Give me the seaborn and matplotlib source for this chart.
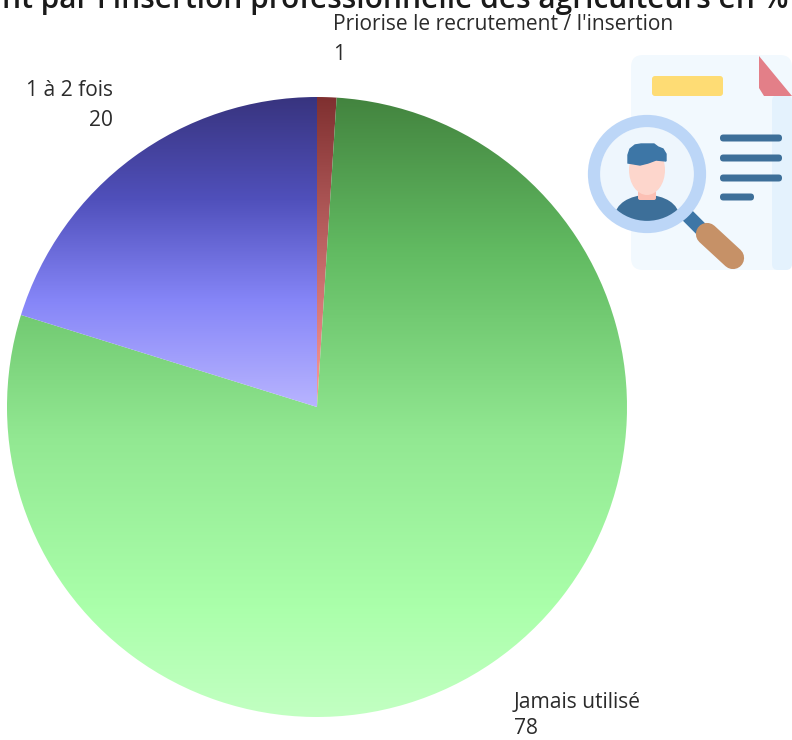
import matplotlib
matplotlib.use("Agg")
import matplotlib.pyplot as plt
import numpy as np
import seaborn as sns
from matplotlib.colors import LinearSegmentedColormap
from matplotlib.patches import Circle, FancyBboxPatch, Polygon, Ellipse

labels = ["Priorise le recrutement / l'insertion", "Jamais utilisé", "1 à 2 fois"]
values = [1, 78, 20]
title = "nt par l'insertion professionnelle des agriculteurs en %"
gradients = [
    [(0.0, "#7f3030"), (1.0, "#ff9a9a")],
    [(0.0, "#43843f"), (0.25, "#62bb62"), (0.55, "#92e892"), (0.82, "#aaffaa"), (1.0, "#c2ffc2")],
    [(0.0, "#38347f"), (0.33, "#5050bb"), (0.66, "#8686f8"), (1.0, "#b8b4ff")],
]

sns.set_theme(style="white")
plt.rcParams["font.family"] = ["Open Sans", "DejaVu Sans"]

W, H = 792, 740
fig = plt.figure(figsize=(W / 100, H / 100), dpi=100, facecolor="white")
ax = fig.add_axes([0, 0, 1, 1])
cx, cy, r = 317, H - 407, 310
wedges, _ = ax.pie(values, startangle=90, counterclock=False, center=(cx, cy), radius=r,
                   colors=["none"] * 3, wedgeprops={"linewidth": 0})
ax.set_xlim(0, W)
ax.set_ylim(0, H)
ax.set_aspect("equal")
ax.axis("off")

# vertical gradient per slice, running over each slice's own height
for w, g in zip(wedges, gradients):
    cmap = LinearSegmentedColormap.from_list("g", g)
    bb = w.get_path().transformed(w.get_transform() - ax.transData).get_extents()
    im = ax.imshow(np.linspace(0, 1, 256)[:, None], cmap=cmap, aspect="auto",
                   extent=(bb.x0, bb.x1, bb.y0, bb.y1), origin="upper", zorder=1)
    im.set_clip_path(w)
ax.set_xlim(0, W)
ax.set_ylim(0, H)


def px(x, y):
    return x, H - y


tc = "#2b2b2b"
fs = 15.15
ax.text(*px(333, 25), labels[0], fontsize=fs, color=tc, ha="left", va="center")
ax.text(*px(333, 55), f"{values[0]}", fontsize=fs, color=tc, ha="left", va="center")
ax.text(*px(113, 91), labels[2], fontsize=fs, color=tc, ha="right", va="center")
ax.text(*px(113, 120), f"{values[2]}", fontsize=fs, color=tc, ha="right", va="center")
ax.text(*px(514, 702), labels[1], fontsize=fs, color=tc, ha="left", va="center")
ax.text(*px(514, 729), f"{values[1]}", fontsize=fs, color=tc, ha="left", va="center")
ax.text(789, H - 8, title, fontsize=21.5, fontweight=600, color="#1a1a1a", ha="right", va="baseline", clip_on=False)

# illustration: document and magnifier
def box(x0, y0, x1, y1, color, rad=4, z=3):
    ax.add_patch(FancyBboxPatch((x0 + rad, H - y1 + rad), x1 - x0 - 2 * rad, y1 - y0 - 2 * rad,
                                boxstyle=f"round,pad={rad},rounding_size={rad}", fc=color, ec="none", zorder=z))

box(631, 55, 792, 270, "#f2f9fe", 12)
box(772, 95, 792, 270, "#e4f2fd", 6, 3.1)
box(652, 76, 723, 96, "#fedc74", 3, 4)
ax.add_patch(Polygon([px(759, 56), px(759, 88), px(764, 96), px(792, 96)], fc="#e37f88", ec="none", zorder=4))
for y, x1 in zip([138, 158, 178, 197], [782, 782, 782, 754]):
    box(720, y - 3.5, x1, y + 3.5, "#3d6f99", 3.4, 4)
# handle
ax.plot(*zip(px(684, 212), px(703, 231)), color="#3d76a6", lw=10, solid_capstyle="butt", zorder=4)
ax.plot(*zip(px(707, 234), px(733, 258)), color="#c69167", lw=16, solid_capstyle="round", zorder=5)
# lens
ax.add_patch(Circle(px(647, 174), 47, fc="#eef6fd", ec="none", zorder=5))
ax.add_patch(Circle(px(647, 174), 53, fc="none", ec="#bcd6f7", lw=8.8, zorder=7))
body = Ellipse(px(647, 216), 64, 42, fc="#3d6f99", ec="none", zorder=6)
ax.add_patch(body)
body.set_clip_path(Circle(px(647, 174), 48, transform=ax.transData))
ax.add_patch(FancyBboxPatch((640, H - 198), 14, 8, boxstyle="round,pad=2", fc="#fcc0b4", ec="none", zorder=6.3))
ax.add_patch(Ellipse(px(647, 170), 36, 50, fc="#fdd6cc", ec="none", zorder=6.4))
ax.add_patch(Polygon([px(628, 163), px(628, 155), px(630, 149), px(635, 145), px(641, 144), px(654, 144),
                      px(658, 147), px(663, 149), px(666, 154), px(666, 161), px(656, 160), px(648, 163),
                      px(640, 165)], fc="#3d76a6", ec="#3d76a6", lw=1, zorder=6.5))

fig.savefig("out.png", dpi=100, facecolor="white")
